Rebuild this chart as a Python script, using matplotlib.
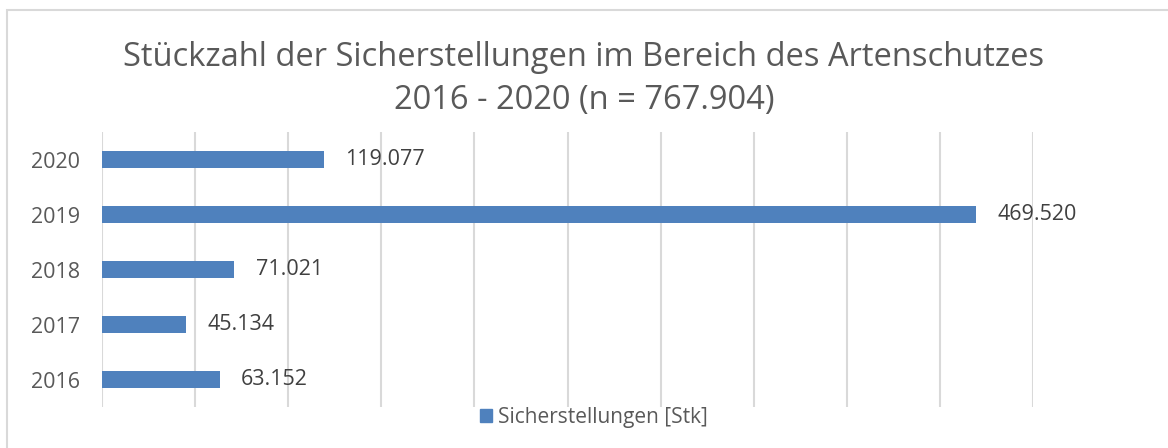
import matplotlib.pyplot as plt
from matplotlib.patches import Rectangle

years = ['2016', '2017', '2018', '2019', '2020']
values = [63152, 45134, 71021, 469520, 119077]
labels = ['63.152', '45.134', '71.021', '469.520', '119.077']
series_name = 'Sicherstellungen [Stk]'

bar_color = '#4f81bd'
text_color = '#595959'

plt.rcParams['font.family'] = ['Open Sans', 'DejaVu Sans']

fig = plt.figure(figsize=(11.68, 4.48), dpi=100)
W, H = 1168, 448

# chart frame (only left/top edges visible)
fig.patches.append(Rectangle((7 / W, -1), 2, 2 - 10 / H, transform=fig.transFigure,
                             fill=False, edgecolor='#d9d9d9', linewidth=1.5))

ax = fig.add_axes([102 / W, 1 - 407 / H, (1033 - 102) / W, (407 - 132) / H])
ax.barh(range(len(years)), values, height=0.31, color=bar_color, zorder=3)
for i, (v, lab) in enumerate(zip(values, labels)):
    ax.text(v + 11500, i, lab, va='center', ha='left', fontsize=15.5, color='#404040')

ax.set_xlim(0, 500000)
ax.set_ylim(-0.5, len(years) - 0.5)
ax.set_xticks(range(0, 500001, 50000))
ax.set_xticklabels([])
ax.tick_params(axis='x', length=0)
ax.set_yticks(range(len(years)))
ax.set_yticklabels(years, fontsize=15.5, color=text_color)
ax.tick_params(axis='y', length=0, pad=16)
ax.grid(axis='x', color='#d9d9d9', linewidth=1.5, zorder=0)
for s in ax.spines.values():
    s.set_visible(False)

fig.text(0.5, 1 - 57 / H, 'Stückzahl der Sicherstellungen im Bereich des Artenschutzes',
         ha='center', va='center', fontsize=23.5, color=text_color)
fig.text(0.5, 1 - 100 / H, '2016 - 2020 (n = 767.904)',
         ha='center', va='center', fontsize=23.5, color=text_color)

leg = fig.legend([Rectangle((0, 0), 1, 1, color=bar_color)], [series_name],
                 loc='center', bbox_to_anchor=(594 / W, 1 - 417 / H), frameon=False,
                 fontsize=15, handlelength=0.6, handleheight=0.6, handletextpad=0.3,
                 labelcolor=text_color)

fig.savefig('out.png', dpi=100, facecolor='white')
